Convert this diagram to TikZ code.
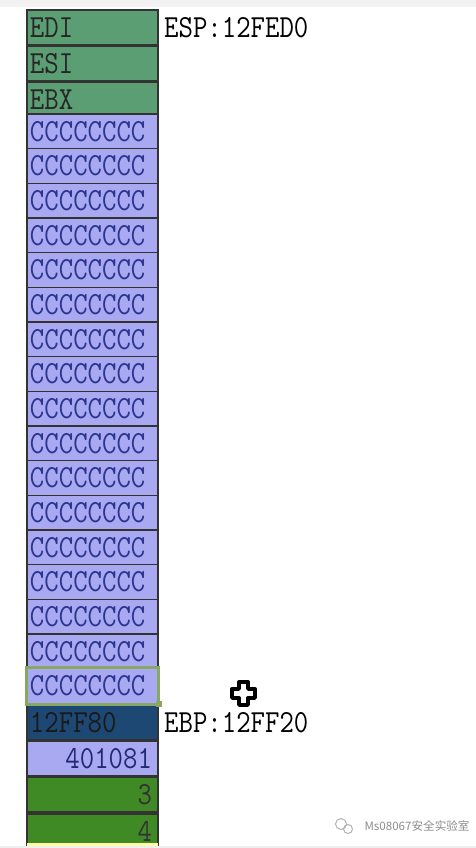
\documentclass[tikz,border=0pt]{standalone}
\usepackage{fontspec}
\newfontfamily\cjkfont{Noto Sans CJK SC}
\usetikzlibrary{positioning}
\definecolor{regGreen}{HTML}{5C9E74}
\definecolor{ccBlue}{HTML}{A9A9F2}
\definecolor{ccText}{HTML}{2B3590}
\definecolor{ebpNavy}{HTML}{1E4874}
\definecolor{argGreen}{HTML}{408A26}
\definecolor{selGreen}{HTML}{86A862}
\newcommand{\tallt}[1]{\scalebox{1}[1.15]{#1}}
\tikzset{
  cell/.style={draw=black!80, line width=0.8pt, minimum width=65.5pt,
    minimum height=17.33pt, inner sep=0pt, inner xsep=1.5pt,
    text width=62.5pt, align=left,
    font=\ttfamily\fontsize{14}{14}\selectfont},
  numcell/.style={cell, inner xsep=3pt, text width=59.5pt, align=right},
  addr/.style={inner sep=0pt, font=\ttfamily\fontsize{14}{14}\selectfont}
}
\begin{document}
\begin{tikzpicture}[x=0.5pt,y=-0.5pt]
\useasboundingbox (0,0) rectangle (476,848);
\fill[black!5] (0,0) rectangle (476,7);
% saved registers
\node[cell,fill=regGreen,text=black!85] (edi) at (92.5,27.3) {\tallt{EDI}};
\node[cell,fill=regGreen,text=black!85,below=0pt of edi] (esi) {\tallt{ESI}};
\node[cell,fill=regGreen,text=black!85,below=0pt of esi] (ebx) {\tallt{EBX}};
% local buffer
\foreach \i in {1,...,17}
    \node[cell,fill=ccBlue,text=ccText] (c\i) at (92.5,{10+(\i+2.5)*34.667}) {\tallt{CCCCCCCC}};
% frame
\node[cell,fill=ebpNavy,text=black!90,below=0pt of c17] (oldebp) {\tallt{12FF80}};
\node[numcell,fill=ccBlue,text=ccText!80!black,below=0pt of oldebp] (ret) {\tallt{401081}};
\node[numcell,fill=argGreen,text=black!80,below=0pt of ret] (arga) {\tallt{3}};
\node[numcell,fill=argGreen,text=black!80,below=0pt of arga] (argb) {\tallt{4}};
% selection
\draw[selGreen, line width=1.5pt] (c17.north west) rectangle (c17.south east);
\fill[selGreen] (c17.south east) +(-3,-3) rectangle +(3,3);
% pointers
\node[addr,anchor=west,right=2.5pt of edi] (esp) {\tallt{ESP:12FED0}};
\node[addr,anchor=west,right=2.5pt of oldebp] (ebp) {\tallt{EBP:12FF20}};
% cursor
\draw[line width=1.7pt, fill=white, line join=round]
  (239,682) -- (248,682) -- (248,689) -- (255,689) -- (255,698) -- (248,698)
  -- (248,705) -- (239,705) -- (239,698) -- (232,698) -- (232,689) -- (239,689) -- cycle;
% bottom edge
\fill[yellow!35] (27,843) rectangle (158,846);
\fill[black!6] (0,846) rectangle (476,848);
% watermark
\draw[black!30, line width=0.5pt] (341,824) circle (5.5);
\draw[black!30, line width=0.5pt] (348,829) circle (4.5);
\node[text=black!45, font=\cjkfont\fontsize{5.8}{5.8}\selectfont, anchor=east, inner sep=0pt] (mark) at (470,826) {Ms08067安全实验室};
\end{tikzpicture}
\end{document}
